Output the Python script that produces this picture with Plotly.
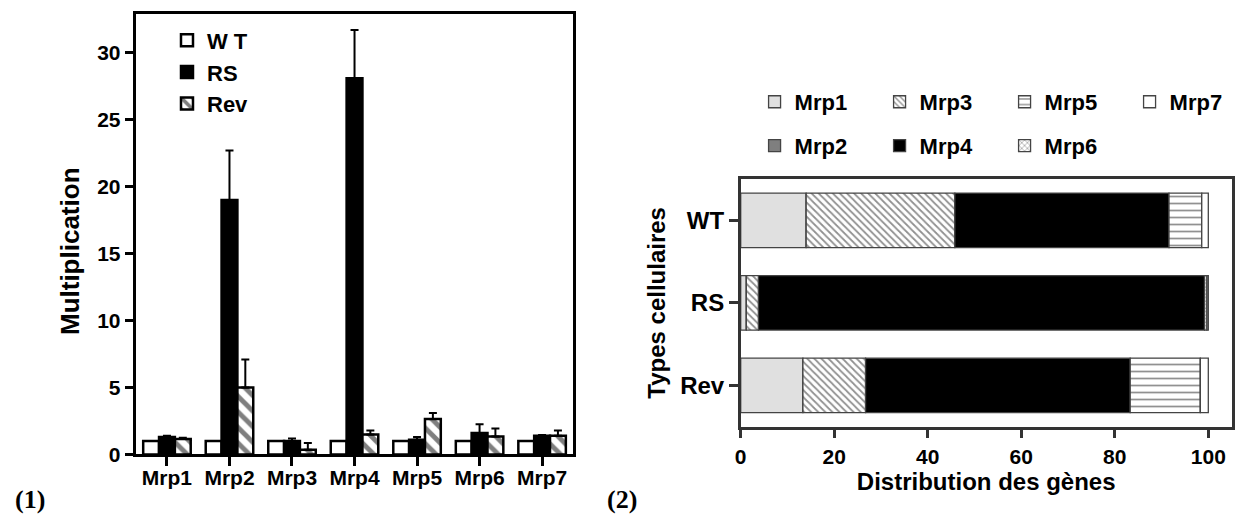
import numpy as np
import plotly.graph_objects as go

# ---------- Data: panel (1) ----------
genes = ["Mrp1", "Mrp2", "Mrp3", "Mrp4", "Mrp5", "Mrp6", "Mrp7"]
wt_vals = [1.0, 1.0, 1.0, 1.0, 1.0, 1.0, 1.0]
rs_vals = [1.3, 19.0, 1.0, 28.1, 1.1, 1.6, 1.4]
rs_err = [0.1, 3.7, 0.2, 3.6, 0.2, 0.65, 0.05]
rev_vals = [1.15, 5.0, 0.35, 1.5, 2.65, 1.35, 1.4]
rev_err = [0.1, 2.1, 0.5, 0.3, 0.45, 0.6, 0.4]

# ---------- Data: panel (2) ----------
cell_types = ["WT", "RS", "Rev"]
dist_mrp1 = [14.0, 1.2, 13.3]
dist_mrp2 = [0.0, 0.0, 0.0]
dist_mrp3 = [31.8, 2.6, 13.4]
dist_mrp4 = [45.8, 95.4, 56.6]
dist_mrp5 = [7.0, 0.0, 15.0]
dist_mrp6 = [0.0, 0.5, 0.0]
dist_mrp7 = [1.4, 0.3, 1.7]

FONT = "Arial, Liberation Sans, sans-serif"

fig = go.Figure()

zero = [0] * len(genes)
err_style = dict(type="data", symmetric=False, arrayminus=zero, color="black", thickness=2, width=4)

fig.add_trace(go.Bar(
    x=genes, y=wt_vals, name="W T", xaxis="x", yaxis="y", legend="legend",
    marker=dict(color="white", line=dict(color="black", width=2.5)),
))
fig.add_trace(go.Bar(
    x=genes, y=rs_vals, name="RS", xaxis="x", yaxis="y", legend="legend",
    marker=dict(color="black", line=dict(color="black", width=2.5)),
    error_y=dict(array=rs_err, **err_style),
))
fig.add_trace(go.Bar(
    x=genes, y=rev_vals, name="Rev", xaxis="x", yaxis="y", legend="legend",
    marker=dict(color="white", line=dict(color="black", width=2.5),
                pattern=dict(shape="\\", fgcolor="black", bgcolor="white", size=11, solidity=0.45)),
    error_y=dict(array=rev_err, **err_style),
))

# ---------- panel (2): stacked segments via base ----------
series = [
    ("Mrp1", dist_mrp1, dict(color="#e0e0e0"), 1, "legend2"),
    ("Mrp2", dist_mrp2, dict(color="#7f7f7f"), 5, "legend3"),
    ("Mrp3", dist_mrp3, dict(color="white", pattern=dict(shape="\\", fgcolor="#222", bgcolor="white", size=5, solidity=0.35)), 2, "legend2"),
    ("Mrp4", dist_mrp4, dict(color="black"), 6, "legend3"),
    ("Mrp5", dist_mrp5, dict(color="white", pattern=dict(shape="-", fgcolor="#222", bgcolor="white", size=7, solidity=0.25)), 3, "legend2"),
    ("Mrp6", dist_mrp6, dict(color="white", pattern=dict(shape="x", fgcolor="#222", bgcolor="white", size=5, solidity=0.3)), 7, "legend3"),
    ("Mrp7", dist_mrp7, dict(color="white"), 4, "legend2"),
]
cum = np.zeros(len(cell_types))
for name, vals, mk, rank, lg in series:
    vals = np.array(vals, dtype=float)
    mk = dict(mk)
    mk["line"] = dict(color="#444444", width=1.3)
    fig.add_trace(go.Bar(
        y=cell_types, x=vals, base=cum.copy(), orientation="h", name=name,
        xaxis="x2", yaxis="y2", offsetgroup="stack", width=0.66,
        marker=mk, legend=lg, legendrank=rank,
    ))
    cum = cum + vals

def bold(size, color="black", family=FONT):
    return dict(family=family, size=size, color=color, weight="bold")

fig.update_layout(
    width=1237, height=515, autosize=False,
    margin=dict(l=0, r=0, t=0, b=0, autoexpand=False),
    paper_bgcolor="white", plot_bgcolor="white",
    barmode="group", bargap=0.24, bargroupgap=0.0,
    font=dict(family=FONT, color="black"),
    xaxis=dict(domain=[0.1097, 0.4635], anchor="y", range=[-0.5, 6.5],
               showline=True, mirror=True, linecolor="black", linewidth=3,
               ticks="outside", ticklen=9, tickwidth=2.5, tickcolor="black",
               ticklabelstandoff=-7,
               tickfont=bold(21), showgrid=False, zeroline=False),
    yaxis=dict(domain=[0.1175, 0.9728], anchor="x", range=[0, 32.9], dtick=5,
               showline=True, mirror=True, linecolor="black", linewidth=3,
               ticks="outside", ticklen=8, tickwidth=2.5, tickcolor="black",
               tickfont=bold(21), showgrid=False, zeroline=False),
    xaxis2=dict(domain=[0.5988, 0.9957], anchor="y2", range=[0, 105],
                tickvals=[0, 20, 40, 60, 80, 100],
                showline=True, mirror=True, linecolor="#333333", linewidth=2.5,
                ticks="outside", ticklen=9, tickwidth=2.5, tickcolor="#333333",
                tickfont=bold(21), showgrid=False, zeroline=False,
                title=dict(text="Distribution des gènes", font=bold(24), standoff=4)),
    yaxis2=dict(domain=[0.1715, 0.6524], anchor="x2", range=[2.5, -0.5],
                categoryorder="array", categoryarray=cell_types,
                showline=True, mirror=True, linecolor="#333333", linewidth=2.5,
                ticks="outside", ticklen=9, tickwidth=2.5, tickcolor="#333333",
                tickfont=bold(24), showgrid=False, zeroline=False,
                title=dict(text="Types cellulaires", font=bold(24), standoff=8)),
    legend=dict(x=0.135, y=0.962, xanchor="left", yanchor="top",
                font=bold(22), bgcolor="rgba(0,0,0,0)", traceorder="normal"),
    legend2=dict(x=0.610, y=0.802, xanchor="left", yanchor="middle", orientation="h",
                 font=bold(22), entrywidth=80, bgcolor="rgba(0,0,0,0)"),
    legend3=dict(x=0.610, y=0.717, xanchor="left", yanchor="middle", orientation="h",
                 font=bold(22), entrywidth=80, bgcolor="rgba(0,0,0,0)"),
    annotations=[
        dict(text="Multiplication", x=0.0566, y=0.5126, xref="paper", yref="paper",
             xanchor="center", yanchor="middle", textangle=-90, showarrow=False, font=bold(26)),
        dict(text="(1)", x=0.0105, y=0.031, xref="paper", yref="paper", xanchor="left", yanchor="middle",
             showarrow=False, font=bold(26, family="Liberation Serif, Times New Roman, serif")),
        dict(text="(2)", x=0.489, y=0.031, xref="paper", yref="paper", xanchor="left", yanchor="middle",
             showarrow=False, font=bold(26, family="Liberation Serif, Times New Roman, serif")),
    ],
)

fig.write_html("out.html", config={"displayModeBar": False},
               post_script="document.body.style.margin='0';document.body.style.overflow='hidden';")
